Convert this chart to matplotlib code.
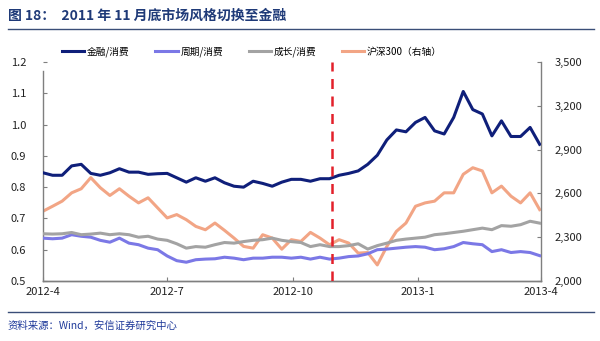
import matplotlib
matplotlib.use('Agg')
import matplotlib.pyplot as plt
from matplotlib.lines import Line2D
import pandas as pd

plt.rcParams['font.family'] = ['Noto Sans CJK SC', 'DejaVu Sans']

# 周度数据
dates = pd.date_range('2012-04-01', periods=53, freq='7D')

fin_cons = [0.846, 0.838, 0.838, 0.868, 0.873, 0.844, 0.838, 0.846, 0.859, 0.848,
            0.848, 0.841, 0.843, 0.844, 0.830, 0.816, 0.830, 0.819, 0.830, 0.814,
            0.803, 0.800, 0.819, 0.812, 0.803, 0.816, 0.825, 0.825, 0.819, 0.827,
            0.827, 0.838, 0.844, 0.852, 0.873, 0.902, 0.951, 0.983, 0.977, 1.007,
            1.023, 0.980, 0.970, 1.023, 1.106, 1.048, 1.034, 0.964, 1.012, 0.962,
            0.962, 0.991, 0.937]
cyc_cons = [0.637, 0.635, 0.637, 0.648, 0.643, 0.640, 0.630, 0.624, 0.637, 0.621,
            0.616, 0.605, 0.600, 0.580, 0.565, 0.560, 0.568, 0.570, 0.571, 0.576,
            0.573, 0.568, 0.573, 0.573, 0.576, 0.576, 0.573, 0.576, 0.570, 0.576,
            0.570, 0.573, 0.578, 0.580, 0.587, 0.600, 0.602, 0.605, 0.608, 0.610,
            0.608, 0.600, 0.603, 0.610, 0.623, 0.619, 0.616, 0.594, 0.600, 0.591,
            0.594, 0.591, 0.581]
grw_cons = [0.651, 0.650, 0.651, 0.655, 0.648, 0.650, 0.653, 0.648, 0.651, 0.648,
            0.640, 0.643, 0.634, 0.630, 0.619, 0.605, 0.610, 0.608, 0.616, 0.623,
            0.621, 0.626, 0.630, 0.632, 0.637, 0.630, 0.626, 0.623, 0.610, 0.616,
            0.610, 0.610, 0.613, 0.619, 0.602, 0.613, 0.621, 0.630, 0.634, 0.637,
            0.640, 0.648, 0.651, 0.655, 0.659, 0.664, 0.669, 0.664, 0.677, 0.675,
            0.680, 0.691, 0.685]
hs300 = [2478, 2512, 2547, 2604, 2632, 2708, 2639, 2586, 2632, 2581,
         2535, 2570, 2501, 2432, 2455, 2420, 2374, 2351, 2397, 2347,
         2294, 2237, 2225, 2317, 2294, 2218, 2283, 2271, 2333, 2294,
         2248, 2283, 2260, 2191, 2195, 2110, 2237, 2340, 2397, 2512,
         2535, 2547, 2604, 2604, 2731, 2776, 2754, 2604, 2650, 2581,
         2535, 2604, 2489]

switch_date = pd.Timestamp('2012-10-30')
xticks = pd.to_datetime(['2012-04-01', '2012-07-01', '2012-10-01', '2013-01-01', '2013-04-01'])
xtick_labels = ['2012-4', '2012-7', '2012-10', '2013-1', '2013-4']
left_ticks = [0.5, 0.6, 0.7, 0.8, 0.9, 1.0, 1.1, 1.2]
right_ticks = [2000, 2300, 2600, 2900, 3200, 3500]

fig = plt.figure(figsize=(6, 3.41), dpi=100)
ax = fig.add_axes([0.0717, 0.176, 0.83, 0.642])
ax2 = ax.twinx()

ax2.plot(dates, hs300, color='#F2A585', lw=2.2, label='沪深300（右轴）', zorder=1)
ax.plot(dates, fin_cons, color='#0F1F7A', lw=2.2, label='金融/消费', zorder=3)
ax.plot(dates, cyc_cons, color='#7B78E6', lw=2.2, label='周期/消费', zorder=3)
ax.plot(dates, grw_cons, color='#A3A3A3', lw=2.2, label='成长/消费', zorder=3)
ax.axvline(switch_date, color='#E3202A', lw=1.8, ls=(0, (4, 3)), zorder=4)

# 左轴在上层
ax.set_zorder(ax2.get_zorder() + 1)
ax.patch.set_visible(False)

ax.set_xlim(xticks[0], xticks[-1])
ax.set_ylim(0.5, 1.2)
ax2.set_ylim(2000, 3500)
ax.set_xticks(xticks)
ax.set_xticklabels(xtick_labels)
ax.set_yticks(left_ticks)
ax.set_yticklabels([f'{v:.1f}' for v in left_ticks])
ax2.set_yticks(right_ticks)
ax2.set_yticklabels([f'{v:,}' for v in right_ticks])

for a in (ax, ax2):
    a.spines['top'].set_visible(False)
    for s in a.spines.values():
        s.set_color('#7F7F7F')
        s.set_linewidth(1.0)
    a.tick_params(direction='in', length=3, width=0.8, color='#7F7F7F',
                  labelsize=8, labelcolor='#222222')
ax.spines['left'].set_bounds(0.5, 1.17)
ax.spines['right'].set_visible(False)
ax2.spines['left'].set_visible(False)
ax.tick_params(axis='y', pad=12)
ax2.tick_params(axis='y', pad=10)
ax.tick_params(axis='x', pad=4)

h1, l1 = ax.get_legend_handles_labels()
h2, l2 = ax2.get_legend_handles_labels()
fig.legend(h1 + h2, l1 + l2, loc='center', bbox_to_anchor=(0.42, 0.848), ncol=4,
           frameon=False, fontsize=7, handlelength=2.3, handletextpad=0.3,
           columnspacing=2.6)

# 标题与来源
fig.text(0.013, 0.955, '图 18：  2011 年 11 月底市场风格切换至金融', fontsize=10,
         fontweight='bold', color='#1F3A78', va='center')
fig.add_artist(Line2D([0.013, 0.99], [0.915, 0.915], color='#3A4E78', lw=1.0))
fig.add_artist(Line2D([0.013, 0.99], [0.085, 0.085], color='#3A4E78', lw=1.0))
fig.text(0.013, 0.045, '资料来源：Wind，安信证券研究中心', fontsize=7.5,
         style='italic', color='#1F3A9A', va='center')

fig.savefig('out.png', dpi=100)
